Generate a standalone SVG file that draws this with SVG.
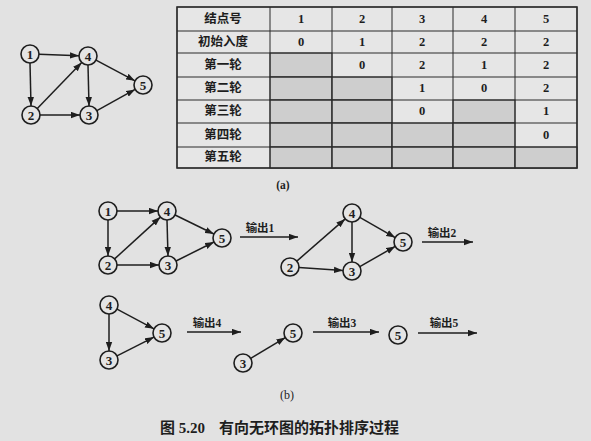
<svg xmlns="http://www.w3.org/2000/svg" width="591" height="441" viewBox="0 0 591 441">
  <defs>
    <marker id="arr" markerWidth="10" markerHeight="7" refX="9" refY="3.5" orient="auto" markerUnits="userSpaceOnUse">
      <path d="M0,0.3 L9,3.5 L0,6.7 z" fill="#1e1e1e"/>
    </marker>
    <style>
      .node circle { fill: #e4e4e4; stroke: #1e1e1e; stroke-width: 1.6; }
      .node text { font-family: "Liberation Serif", "DejaVu Serif", serif; font-size: 13px; font-weight: bold; fill: #1e1e1e; text-anchor: middle; dominant-baseline: central; }
      .edge { stroke: #1e1e1e; stroke-width: 1.5; fill: none; marker-end: url(#arr); }
      .lbl { font-family: "Liberation Serif", "Noto Sans CJK SC", serif; font-size: 11.5px; font-weight: bold; fill: #1e1e1e; text-anchor: middle; }
      .cell { fill: #e6e6e6; stroke: #2a2a2a; stroke-width: 1; }
      .shade { fill: #cecece; stroke: #2a2a2a; stroke-width: 1; }
      .tt { font-family: "Liberation Serif", "Noto Sans CJK SC", serif; font-size: 12.5px; font-weight: bold; fill: #1e1e1e; text-anchor: middle; dominant-baseline: central; }
      .cap { font-family: "Liberation Serif", "Noto Sans CJK SC", serif; fill: #1e1e1e; }
    </style>
  </defs>

  <rect width="591" height="441" fill="#e2e2e2"/>

  <!-- graph (a) -->
  <g id="connectors-a">
    <line class="edge" x1="39" y1="54.3" x2="79" y2="55.7"/>
    <line class="edge" x1="30" y1="63" x2="31" y2="106"/>
    <line class="edge" x1="37.3" y1="108.5" x2="81.7" y2="62.5"/>
    <line class="edge" x1="40" y1="115" x2="80" y2="115"/>
    <line class="edge" x1="88" y1="65" x2="89" y2="106"/>
    <line class="edge" x1="96" y1="60.2" x2="135" y2="80.8"/>
    <line class="edge" x1="96.9" y1="110.6" x2="135.1" y2="89.4"/>
  </g>
  <g id="a1" class="node"><circle cx="30" cy="54" r="9"/><text x="30" y="54">1</text></g>
  <g id="a4" class="node"><circle cx="88" cy="56" r="9"/><text x="88" y="56">4</text></g>
  <g id="a5" class="node"><circle cx="143" cy="85" r="9"/><text x="143" y="85">5</text></g>
  <g id="a2" class="node"><circle cx="31" cy="115" r="9"/><text x="31" y="115">2</text></g>
  <g id="a3" class="node"><circle cx="89" cy="115" r="9"/><text x="89" y="115">3</text></g>

  <!-- in-degree table -->
  <g id="table">
    <rect class="cell" x="177" y="7" width="400" height="161"/>
    <!-- shaded cells -->
    <rect class="shade" x="270" y="53" width="62" height="24"/>
    <rect class="shade" x="270" y="77" width="62" height="23"/>
    <rect class="shade" x="332" y="77" width="60" height="23"/>
    <rect class="shade" x="270" y="100" width="62" height="23"/>
    <rect class="shade" x="332" y="100" width="60" height="23"/>
    <rect class="shade" x="453" y="100" width="62" height="23"/>
    <rect class="shade" x="270" y="123" width="62" height="24"/>
    <rect class="shade" x="332" y="123" width="60" height="24"/>
    <rect class="shade" x="392" y="123" width="61" height="24"/>
    <rect class="shade" x="453" y="123" width="62" height="24"/>
    <rect class="shade" x="270" y="147" width="62" height="21"/>
    <rect class="shade" x="332" y="147" width="60" height="21"/>
    <rect class="shade" x="392" y="147" width="61" height="21"/>
    <rect class="shade" x="453" y="147" width="62" height="21"/>
    <rect class="shade" x="515" y="147" width="62" height="21"/>
    <!-- grid -->
    <g stroke="#2a2a2a" stroke-width="1">
      <line x1="177" y1="31" x2="577" y2="31"/>
      <line x1="177" y1="53" x2="577" y2="53"/>
      <line x1="177" y1="77" x2="577" y2="77"/>
      <line x1="177" y1="100" x2="577" y2="100"/>
      <line x1="177" y1="123" x2="577" y2="123"/>
      <line x1="177" y1="147" x2="577" y2="147"/>
      <line x1="270" y1="7" x2="270" y2="168"/>
      <line x1="332" y1="7" x2="332" y2="168"/>
      <line x1="392" y1="7" x2="392" y2="168"/>
      <line x1="453" y1="7" x2="453" y2="168"/>
      <line x1="515" y1="7" x2="515" y2="168"/>
    </g>
    <rect x="177" y="7" width="400" height="161" fill="none" stroke="#2a2a2a" stroke-width="1.4"/>
    <!-- header row -->
    <text class="tt" x="223" y="19">结点号</text>
    <text class="tt" x="301" y="19">1</text>
    <text class="tt" x="362" y="19">2</text>
    <text class="tt" x="422" y="19">3</text>
    <text class="tt" x="484" y="19">4</text>
    <text class="tt" x="546" y="19">5</text>
    <!-- initial -->
    <text class="tt" x="223" y="42">初始入度</text>
    <text class="tt" x="301" y="42">0</text>
    <text class="tt" x="362" y="42">1</text>
    <text class="tt" x="422" y="42">2</text>
    <text class="tt" x="484" y="42">2</text>
    <text class="tt" x="546" y="42">2</text>
    <!-- round 1 -->
    <text class="tt" x="223" y="65">第一轮</text>
    <text class="tt" x="362" y="65">0</text>
    <text class="tt" x="422" y="65">2</text>
    <text class="tt" x="484" y="65">1</text>
    <text class="tt" x="546" y="65">2</text>
    <!-- round 2 -->
    <text class="tt" x="223" y="88">第二轮</text>
    <text class="tt" x="422" y="88">1</text>
    <text class="tt" x="484" y="88">0</text>
    <text class="tt" x="546" y="88">2</text>
    <!-- round 3 -->
    <text class="tt" x="223" y="111">第三轮</text>
    <text class="tt" x="422" y="111">0</text>
    <text class="tt" x="546" y="111">1</text>
    <!-- round 4 -->
    <text class="tt" x="223" y="135">第四轮</text>
    <text class="tt" x="546" y="135">0</text>
    <!-- round 5 -->
    <text class="tt" x="223" y="157">第五轮</text>
  </g>
  <text class="cap" x="283" y="189" font-size="11.5" font-weight="bold" text-anchor="middle">(a)</text>

  <!-- sequence (b) -->
  <g id="connectors-b">
    <!-- step 0 -->
    <line class="edge" x1="117" y1="211" x2="158" y2="211"/>
    <line class="edge" x1="108" y1="220" x2="108" y2="256"/>
    <line class="edge" x1="114.6" y1="258.9" x2="160.4" y2="217.1"/>
    <line class="edge" x1="117" y1="265" x2="159" y2="265"/>
    <line class="edge" x1="167" y1="220" x2="168" y2="256"/>
    <line class="edge" x1="175.1" y1="215" x2="213.9" y2="234"/>
    <line class="edge" x1="176" y1="261" x2="214" y2="242"/>
    <!-- step 1 -->
    <line class="edge" x1="296.8" y1="261.1" x2="345.2" y2="218.9"/>
    <line class="edge" x1="299" y1="267.6" x2="343" y2="270.4"/>
    <line class="edge" x1="352" y1="222" x2="352" y2="262"/>
    <line class="edge" x1="359.8" y1="217.4" x2="395.2" y2="237.6"/>
    <line class="edge" x1="359.8" y1="266.6" x2="395.2" y2="246.4"/>
    <!-- step 2 -->
    <line class="edge" x1="109" y1="314" x2="109" y2="351"/>
    <line class="edge" x1="117" y1="309.2" x2="154" y2="328.8"/>
    <line class="edge" x1="117" y1="355.9" x2="154" y2="337.1"/>
    <!-- step 3 -->
    <line class="edge" x1="250.7" y1="358.4" x2="285.3" y2="337.6"/>
    <!-- output arrows -->
    <line class="edge" x1="240" y1="237" x2="298" y2="237"/>
    <line class="edge" x1="422" y1="242" x2="473" y2="242"/>
    <line class="edge" x1="187" y1="332" x2="241" y2="332"/>
    <line class="edge" x1="313" y1="332" x2="379" y2="332"/>
    <line class="edge" x1="418" y1="333" x2="477" y2="333"/>
  </g>
  <text class="lbl" x="260" y="232">输出1</text>
  <text class="lbl" x="442" y="237">输出2</text>
  <text class="lbl" x="207" y="327">输出4</text>
  <text class="lbl" x="342" y="327">输出3</text>
  <text class="lbl" x="444" y="327">输出5</text>

  <g id="b0-1" class="node"><circle cx="108" cy="211" r="9"/><text x="108" y="211">1</text></g>
  <g id="b0-4" class="node"><circle cx="167" cy="211" r="9"/><text x="167" y="211">4</text></g>
  <g id="b0-5" class="node"><circle cx="222" cy="238" r="9"/><text x="222" y="238">5</text></g>
  <g id="b0-2" class="node"><circle cx="108" cy="265" r="9"/><text x="108" y="265">2</text></g>
  <g id="b0-3" class="node"><circle cx="168" cy="265" r="9"/><text x="168" y="265">3</text></g>

  <g id="b1-4" class="node"><circle cx="352" cy="213" r="9"/><text x="352" y="213">4</text></g>
  <g id="b1-5" class="node"><circle cx="403" cy="242" r="9"/><text x="403" y="242">5</text></g>
  <g id="b1-2" class="node"><circle cx="290" cy="267" r="9"/><text x="290" y="267">2</text></g>
  <g id="b1-3" class="node"><circle cx="352" cy="271" r="9"/><text x="352" y="271">3</text></g>

  <g id="b2-4" class="node"><circle cx="109" cy="305" r="9"/><text x="109" y="305">4</text></g>
  <g id="b2-5" class="node"><circle cx="162" cy="333" r="9"/><text x="162" y="333">5</text></g>
  <g id="b2-3" class="node"><circle cx="109" cy="360" r="9"/><text x="109" y="360">3</text></g>

  <g id="b3-3" class="node"><circle cx="243" cy="363" r="9"/><text x="243" y="363">3</text></g>
  <g id="b3-5" class="node"><circle cx="293" cy="333" r="9"/><text x="293" y="333">5</text></g>

  <g id="b4-5" class="node"><circle cx="398" cy="335" r="9"/><text x="398" y="335">5</text></g>

  <text class="cap" x="287" y="399" font-size="12" text-anchor="middle">(b)</text>
  <text class="cap" x="160" y="433" font-size="15" font-weight="bold">图 5.20<tspan dx="14">有向无环图的拓扑排序过程</tspan></text>
</svg>
